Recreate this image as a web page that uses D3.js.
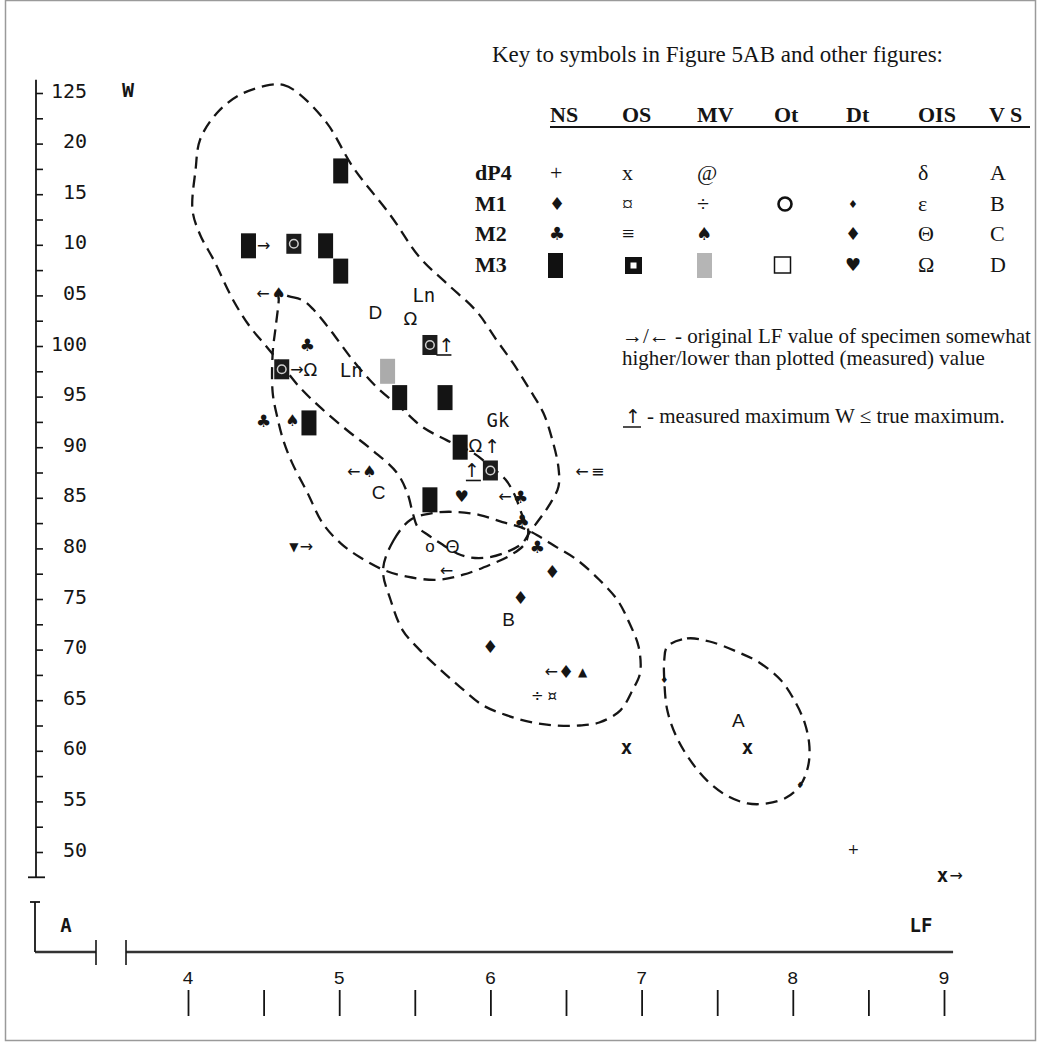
<!DOCTYPE html>
<html>
<head>
<meta charset="utf-8">
<title>LF / W scatter with key to symbols</title>
<script src="https://cdn.jsdelivr.net/npm/d3@7"></script>
<style>
  body { margin: 0; background: #fff; }
  svg { display: block; }
  text { fill: #151515; }
  .mono { font-family: "DejaVu Sans Mono", monospace; }
  .lmono { font-family: "Liberation Mono", monospace; }
  .serif { font-family: "Liberation Serif", "Times New Roman", serif; }
  .sans { font-family: "Liberation Sans", Arial, sans-serif; }
  .sym { font-family: "DejaVu Sans", sans-serif; }
</style>
</head>
<body>
<svg id="chart" width="1041" height="1044"></svg>
<script>
// axis values
var lfLabels = [4, 5, 6, 7, 8, 9];
var lfTicks = [4, 4.5, 5, 5.5, 6, 6.5, 7, 7.5, 8, 8.5, 9];
var wTicks = [125, 120, 115, 110, 105, 100, 95, 90, 85, 80, 75, 70, 65, 60, 55, 50];
var wLabels = ["125", "20", "15", "10", "05", "100", "95", "90", "85", "80", "75", "70", "65", "60", "55", "50"];

// specimens: [LF, W, mark before, mark after]   ("_" = underlined arrow)
var nsM3 = [[5.01, 117.3, "", ""], [4.40, 109.9, "", "→"], [4.91, 109.9, "", ""], [5.01, 107.4, "", ""],
            [5.40, 94.9, "", ""], [5.70, 94.9, "", ""], [5.80, 90.0, "", ""], [4.80, 92.4, "", ""], [5.60, 84.8, "", ""]];
var osM3 = [[4.70, 110.1, "", ""], [5.60, 100.1, "", "↑_"], [4.62, 97.7, "", "→"], [6.00, 87.7, "↑_", ""]];
var mvM3 = [[5.32, 97.5, "", ""]];
var nsM2 = [[4.79, 100.1, "", ""], [4.50, 92.6, "", ""], [6.20, 85.1, "←", ""], [6.21, 82.7, "", ""], [6.31, 80.1, "", ""]];
var mvM2 = [[4.60, 105.2, "←", ""], [4.69, 92.6, "", ""], [5.20, 87.6, "←", ""]];
var nsM1 = [[6.41, 77.7, "", ""], [6.20, 75.1, "", ""], [6.00, 70.3, "", ""], [6.50, 67.8, "←", ""]];
var triUp = [[6.61, 67.8, "", ""]];
var triDown = [[4.70, 80.2, "", "→"]];
var dtM3 = [[5.81, 85.1, "", ""]];
var dtM1 = [[7.15, 67.0, "", ""], [8.05, 56.6, "", ""]];
var mvM1 = [[6.31, 65.4, "", ""]];
var osM1 = [[6.41, 65.4, "", ""]];
var osM2 = [[6.71, 87.6, "←", ""]];
var otM1 = [[5.60, 80.2, "", ""]];
var oisM2 = [[5.75, 80.2, "", ""]];
var oisM3 = [[5.47, 102.7, "", ""], [4.81, 97.7, "", ""], [5.90, 90.1, "", "↑"]];
var osP4 = [[6.90, 60.3, "", ""], [7.70, 60.3, "", ""], [8.99, 47.7, "", "→"]];
var nsP4 = [[8.40, 50.3, "", ""]];
var looseArrows = [[5.71, 77.8, "←"]];

var vsNames = ["A", "B", "C", "D"];
var vsPos = [[7.64, 63.0], [6.12, 73.0], [5.26, 85.5], [5.24, 103.3]];
var siteNames = ["Ln", "Ln", "Gk"];
var sitePos = [[5.56, 105.0], [5.08, 97.6], [6.05, 92.7]];

// group outlines [LF, W]
var ringD = [[4.54, 125.8], [4.63, 125.8], [4.72, 125.1], [4.92, 122.0], [5.09, 117.7], [5.34, 112.9], [5.53, 108.8],
             [5.71, 106.2], [5.91, 103.4], [6.04, 100.6], [6.15, 98.3], [6.26, 95.7], [6.35, 93.4], [6.41, 90.7],
             [6.45, 88.0], [6.45, 86.1], [6.39, 84.3], [6.33, 83.0], [6.26, 81.6], [6.21, 80.5], [6.10, 79.6],
             [5.98, 79.1], [5.87, 79.1], [5.78, 79.5], [5.67, 80.5], [5.59, 81.3], [5.52, 82.1], [5.49, 83.3],
             [5.45, 85.5], [5.38, 87.5], [5.22, 89.7], [5.05, 91.7], [4.87, 94.0], [4.74, 95.9], [4.61, 98.3],
             [4.51, 100.1], [4.41, 101.9], [4.30, 104.5], [4.17, 108.5], [4.08, 111.0], [4.03, 113.4],
             [4.05, 117.4], [4.08, 120.4], [4.19, 123.0], [4.34, 124.8]];
var ringC = [[4.60, 105.2], [4.67, 104.9], [4.76, 104.5], [4.83, 103.6], [4.94, 101.6], [5.09, 98.6], [5.25, 95.9],
             [5.40, 94.0], [5.55, 92.0], [5.71, 90.7], [5.89, 89.4], [6.00, 88.1], [6.10, 86.8], [6.16, 85.3],
             [6.21, 83.3], [6.25, 81.8], [6.23, 80.5], [6.13, 79.3], [6.00, 78.4], [5.82, 77.4], [5.65, 76.9],
             [5.45, 77.2], [5.29, 77.9], [5.14, 79.1], [5.01, 80.5], [4.89, 82.5], [4.79, 85.5], [4.69, 88.4],
             [4.63, 90.7], [4.59, 93.0], [4.56, 95.4], [4.56, 99.3], [4.58, 101.9], [4.60, 104.5]];
var ringB = [[5.29, 77.9], [5.36, 80.8], [5.47, 82.8], [5.62, 83.5], [5.78, 83.6], [5.93, 83.3], [6.08, 82.6],
             [6.20, 82.1], [6.31, 81.3], [6.44, 80.1], [6.57, 78.9], [6.72, 76.9], [6.84, 74.9], [6.92, 72.6],
             [6.98, 70.3], [6.99, 67.7], [6.94, 66.0], [6.86, 64.0], [6.72, 62.8], [6.59, 62.5], [6.44, 62.5],
             [6.28, 62.8], [6.11, 63.5], [5.95, 64.5], [5.80, 66.3], [5.67, 68.0], [5.53, 70.0], [5.42, 71.9],
             [5.34, 74.9]];
var ringA = [[7.17, 70.3], [7.30, 71.1], [7.45, 70.8], [7.63, 69.8], [7.78, 68.7], [7.92, 67.0], [8.01, 65.0],
             [8.08, 62.7], [8.11, 60.4], [8.10, 58.4], [8.05, 56.6], [7.96, 55.4], [7.83, 54.8], [7.70, 54.8],
             [7.56, 55.6], [7.43, 57.1], [7.32, 59.1], [7.23, 61.4], [7.17, 64.0], [7.15, 67.0], [7.15, 69.0]];

// key table
var keyTitle = "Key to symbols in Figure 5AB and other figures:";
var keyCols = ["NS", "OS", "MV", "Ot", "Dt", "OIS", "V S"];
var keyRows = ["dP4", "M1", "M2", "M3"];
var keyDP4 = ["+", "x", "@", "", "", "δ", "A"];
var keyM1 = ["♦", "¤", "÷", "○", "♦", "ε", "B"];
var keyM2 = ["♣", "≡", "♠", "", "♦", "Θ", "C"];
var keyM3 = ["▮", "◘", "▒", "□", "♥", "Ω", "D"];
var noteLines = ["→/← - original LF value of specimen somewhat", "higher/lower than plotted (measured) value"];
var noteMax = "- measured maximum W ≤ true maximum.";

var svg = d3.select("#chart");
var ink = "#151515";

var x = d3.scaleLinear().domain([4, 9]).range([188, 944]);
var y = d3.scaleLinear().domain([50, 125]).range([852, 93]);

// frame of the scan
svg.append("rect").attr("x", 5.5).attr("y", 0.5).attr("width", 1030).attr("height", 1040)
    .attr("fill", "none").attr("stroke", "#9a9a9a").attr("stroke-width", 1.5);

// ---- W axis
var yAxis = d3.axisRight(y)
    .tickValues(d3.range(50, 125.1, 2.5))
    .tickSize(7)
    .tickFormat(function(d) {
        var i = wTicks.indexOf(d);
        return i < 0 ? "" : wLabels[i];
    });
var gy = svg.append("g").attr("transform", "translate(36,0)").call(yAxis);
gy.select(".domain").remove();
gy.selectAll("line").attr("stroke", ink).attr("stroke-width", 1.6);
gy.selectAll("text")
    .attr("x", 51).attr("dy", "0.2em")
    .attr("class", "mono")
    .style("text-anchor", "end")
    .style("font-size", "20px").style("fill", ink);
svg.append("line").attr("x1", 36).attr("x2", 36).attr("y1", y(126.3)).attr("y2", y(47.5))
    .attr("stroke", ink).attr("stroke-width", 1.8);
svg.append("line").attr("x1", 28).attr("x2", 45).attr("y1", y(47.5)).attr("y2", y(47.5))
    .attr("stroke", ink).attr("stroke-width", 1.8);
svg.append("text").attr("class", "mono").attr("x", 128).attr("y", y(125)).attr("dy", "0.2em")
    .attr("text-anchor", "middle").style("font-size", "20px").style("font-weight", "bold").text("W");

// ---- LF axis
var axisY = 952;
svg.append("line").attr("x1", x(3.59)).attr("x2", x(9.06)).attr("y1", axisY).attr("y2", axisY)
    .attr("stroke", "#333").attr("stroke-width", 2.4);
svg.append("line").attr("x1", 35).attr("x2", 96).attr("y1", axisY).attr("y2", axisY)
    .attr("stroke", "#333").attr("stroke-width", 2.4);
[96, x(3.59)].forEach(function(px) {
    svg.append("line").attr("x1", px).attr("x2", px).attr("y1", 940).attr("y2", 965)
        .attr("stroke", ink).attr("stroke-width", 1.6);
});
svg.append("line").attr("x1", 35).attr("x2", 35).attr("y1", 902).attr("y2", axisY)
    .attr("stroke", ink).attr("stroke-width", 1.8);
svg.append("line").attr("x1", 30).attr("x2", 40).attr("y1", 902).attr("y2", 902)
    .attr("stroke", ink).attr("stroke-width", 1.8);
svg.append("text").attr("class", "mono").attr("x", 66).attr("y", 925).attr("dy", "0.35em")
    .attr("text-anchor", "middle").style("font-size", "19px").style("font-weight", "bold").text("A");
svg.append("text").attr("class", "mono").attr("x", 921).attr("y", 925).attr("dy", "0.35em")
    .attr("text-anchor", "middle").style("font-size", "19px").style("font-weight", "bold").text("LF");

var xAxis = d3.axisBottom(x).tickValues(lfTicks).tickSize(26).tickFormat("");
var gx = svg.append("g").attr("transform", "translate(0,990)").call(xAxis);
gx.select(".domain").remove();
gx.selectAll("line").attr("stroke", ink).attr("stroke-width", 1.8);
svg.selectAll("text.lf").data(lfLabels).enter().append("text")
    .attr("class", "lmono lf")
    .attr("x", function(d) { return x(d); }).attr("y", 977).attr("dy", "0.35em")
    .attr("text-anchor", "middle").style("font-size", "19px")
    .text(function(d) { return d; });

// ---- group outlines
var ring = d3.line()
    .x(function(d) { return x(d[0]); })
    .y(function(d) { return y(d[1]); })
    .curve(d3.curveCatmullRomClosed.alpha(0.5));
[ringD, ringC, ringB, ringA].forEach(function(r) {
    svg.append("path").attr("d", ring(r))
        .attr("fill", "none").attr("stroke", ink)
        .attr("stroke-width", 2.3).attr("stroke-dasharray", "12,7");
});

// ---- marks
var marks = svg.append("g");

function arrow(s, px, py, anchor) {
    var under = s.indexOf("_") >= 0;
    var ch = s.replace("_", "");
    var size = ch === "↑" ? 19 : 16;
    marks.append("text").attr("class", "sym")
        .attr("x", px).attr("y", py).attr("dy", "0.35em")
        .attr("text-anchor", anchor).style("font-size", size + "px").text(ch);
    if (under) {
        var x0 = anchor === "end" ? px - 14 : px - 2;
        marks.append("line").attr("x1", x0).attr("x2", x0 + 15)
            .attr("y1", py + 10).attr("y2", py + 10)
            .attr("stroke", ink).attr("stroke-width", 1.6);
    }
}

function notes(data, half) {
    data.forEach(function(d) {
        if (d[2]) arrow(d[2], x(d[0]) - half - 3, y(d[1]), "end");
        if (d[3]) arrow(d[3], x(d[0]) + half + 1, y(d[1]), "start");
    });
}

function glyphs(data, glyph, size, cls, half, weight) {
    marks.selectAll(null).data(data).enter().append("text")
        .attr("class", cls)
        .attr("x", function(d) { return x(d[0]); })
        .attr("y", function(d) { return y(d[1]); })
        .attr("dy", "0.35em")
        .attr("text-anchor", "middle")
        .style("font-size", size + "px")
        .style("font-weight", weight || "normal")
        .text(glyph);
    notes(data, half);
}

// NS M3: black bars
marks.selectAll(null).data(nsM3).enter().append("rect")
    .attr("x", function(d) { return x(d[0]) - 7.5; })
    .attr("y", function(d) { return y(d[1]) - 12.5; })
    .attr("width", 15).attr("height", 25).attr("fill", "#141414");
notes(nsM3, 7.5);

// MV M3: grey stippled bar
marks.selectAll(null).data(mvM3).enter().append("rect")
    .attr("x", function(d) { return x(d[0]) - 7.5; })
    .attr("y", function(d) { return y(d[1]) - 12.5; })
    .attr("width", 15).attr("height", 25).attr("fill", "#ababab");

// OS M3: dark square with ring
var osG = marks.selectAll(null).data(osM3).enter().append("g")
    .attr("transform", function(d) { return "translate(" + x(d[0]) + "," + y(d[1]) + ")"; });
osG.append("rect").attr("x", -7.5).attr("y", -10).attr("width", 15).attr("height", 20).attr("fill", "#1c1c1c");
osG.append("circle").attr("r", 4.3).attr("fill", "none").attr("stroke", "#d0d0d0").attr("stroke-width", 1.5);
notes(osM3, 7.5);

glyphs(nsM2, "♣", 17, "sym", 6);
glyphs(mvM2, "♠", 16, "sym", 6);
glyphs(nsM1, "♦", 18, "sym", 5);
glyphs(triUp, "▲", 12, "sym", 5);
glyphs(triDown, "▼", 12, "sym", 5);
glyphs(dtM3, "♥", 16, "sym", 6);
glyphs(dtM1, "♦", 9, "sym", 3);
glyphs(mvM1, "÷", 15, "sym", 5);
glyphs(osM1, "¤", 15, "sym", 5);
glyphs(osM2, "≡", 16, "sym", 6);
glyphs(otM1, "o", 17, "sans", 5);
glyphs(oisM2, "Θ", 18, "sans", 6);
glyphs(oisM3, "Ω", 18, "sym", 8);
glyphs(osP4, "x", 19, "mono", 6, "bold");
glyphs(nsP4, "+", 14, "sym", 5);
looseArrows.forEach(function(d) { arrow(d[2], x(d[0]), y(d[1]), "middle"); });

// group and locality labels
marks.selectAll(null).data(vsPos).enter().append("text")
    .attr("class", "sans")
    .attr("x", function(d) { return x(d[0]); })
    .attr("y", function(d) { return y(d[1]); })
    .attr("dy", "0.35em").attr("text-anchor", "middle").style("font-size", "19px")
    .text(function(d, i) { return vsNames[i]; });
marks.selectAll(null).data(sitePos).enter().append("text")
    .attr("class", "mono")
    .attr("x", function(d) { return x(d[0]); })
    .attr("y", function(d) { return y(d[1]); })
    .attr("dy", "0.35em").attr("text-anchor", "middle").style("font-size", "19px")
    .text(function(d, i) { return siteNames[i]; });

// ---- key
var key = svg.append("g").attr("class", "serif");
var colX = [550, 622, 697, 774, 846, 918, 989];
var rowY = [180, 211, 241, 272];

key.append("text").attr("x", 943).attr("y", 62).attr("text-anchor", "end")
    .style("font-size", "23px").text(keyTitle);
key.selectAll("text.hd").data(keyCols).enter().append("text")
    .attr("class", "hd")
    .attr("x", function(d, i) { return colX[i]; }).attr("y", 122)
    .style("font-size", "22px").style("font-weight", "bold")
    .text(function(d) { return d; });
key.append("line").attr("x1", 550).attr("x2", 1030).attr("y1", 127).attr("y2", 127)
    .attr("stroke", ink).attr("stroke-width", 2);
key.selectAll("text.rw").data(keyRows).enter().append("text")
    .attr("class", "rw")
    .attr("x", 475).attr("y", function(d, i) { return rowY[i]; })
    .style("font-size", "22px").style("font-weight", "bold")
    .text(function(d) { return d; });

[keyDP4, keyM1, keyM2, keyM3].forEach(function(row, r) {
    row.forEach(function(s, c) {
        if (!s) return;
        var cx = colX[c], by = rowY[r], cy = by - 7;
        if (s === "▮") {
            key.append("rect").attr("x", cx - 2).attr("y", cy - 12).attr("width", 15).attr("height", 25).attr("fill", "#111");
        } else if (s === "◘") {
            key.append("rect").attr("x", cx + 3).attr("y", cy - 8).attr("width", 17).attr("height", 17).attr("fill", "#111");
            key.append("rect").attr("x", cx + 8.5).attr("y", cy - 2.5).attr("width", 6).attr("height", 6).attr("fill", "#fff");
        } else if (s === "▒") {
            key.append("rect").attr("x", cx).attr("y", cy - 12).attr("width", 15).attr("height", 25).attr("fill", "#b5b5b5");
        } else if (s === "□") {
            key.append("rect").attr("x", cx + 0.5).attr("y", cy - 8).attr("width", 16).attr("height", 16)
                .attr("fill", "none").attr("stroke", "#111").attr("stroke-width", 1.5);
        } else if (s === "○") {
            key.append("circle").attr("cx", cx + 11).attr("cy", cy).attr("r", 6.5)
                .attr("fill", "none").attr("stroke", "#111").attr("stroke-width", 2.6);
        } else if ("♦♣♠♥".indexOf(s) >= 0) {
            var sz = (c === 4 && r === 1) ? 11 : 18;
            key.append("text").attr("class", "sym").attr("x", cx + 7).attr("y", cy).attr("dy", "0.35em")
                .attr("text-anchor", "middle").style("font-size", sz + "px").text(s);
        } else {
            key.append("text").attr("x", cx + (c === 6 ? 1 : 0)).attr("y", by)
                .style("font-size", "22px").text(s);
        }
    });
});

key.selectAll("text.nt").data(noteLines).enter().append("text")
    .attr("class", "nt").attr("x", 622)
    .attr("y", function(d, i) { return 343 + i * 22; })
    .style("font-size", "21px").text(function(d) { return d; });
key.append("text").attr("class", "sym").attr("x", 625).attr("y", 423).style("font-size", "19px").text("↑");
key.append("line").attr("x1", 623).attr("x2", 641).attr("y1", 427).attr("y2", 427).attr("stroke", ink).attr("stroke-width", 1.5);
key.append("text").attr("x", 647).attr("y", 423).style("font-size", "21px").text(noteMax);
</script>
</body>
</html>
